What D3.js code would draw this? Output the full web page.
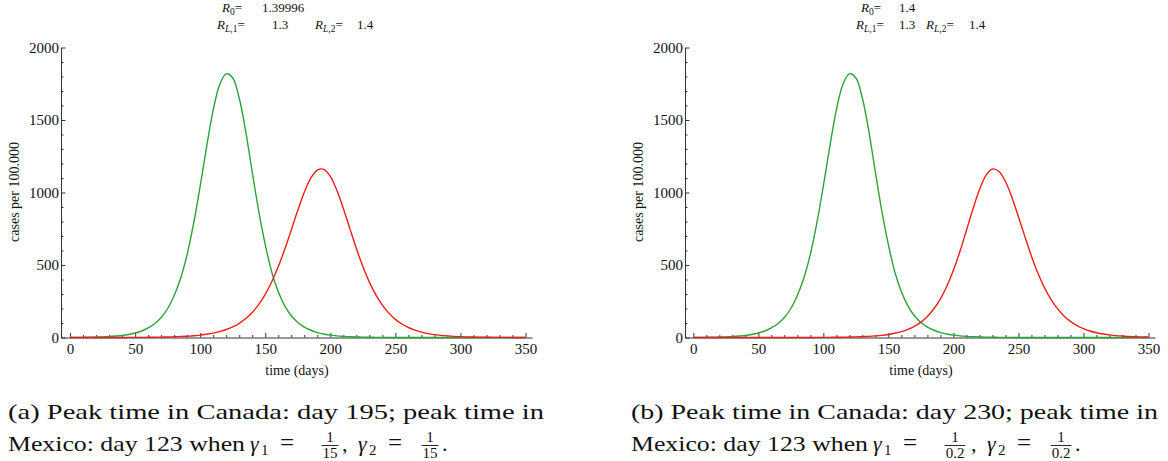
<!DOCTYPE html>
<html>
<head>
<meta charset="utf-8">
<script src="https://cdn.jsdelivr.net/npm/d3@7"></script>
<style>
  body { margin: 0; background: #fff; }
  svg { display: block; }
  svg text { font-family: "Liberation Serif", "Times New Roman", Times, serif; }
</style>
</head>
<body>
<script>
// Sample days (every 5 days)
const days = [0,5,10,15,20,25,30,35,40,45,50,55,60,65,70,75,80,85,90,95,
  100,105,110,115,120,125,130,135,140,145,150,155,160,165,170,175,180,185,190,195,
  200,205,210,215,220,225,230,235,240,245,250,255,260,265,270,275,280,285,290,295,
  300,305,310,315,320,325,330,335,340,345,350];

// Mexico: cases per 100.000 (same in both scenarios)
const mexico = [0.6,1,1.4,2,3,4.5,7,10,14,21,31,45,66,95,138,200,290,410,575,790,
  1045,1320,1570,1745,1818,1790,1650,1420,1140,870,640,450,315,218,150,104,72,50,34,24,
  16,11,7.5,5,3.5,2.5,1.7,1.2,0.8,0.6,0.4,0.3,0.2,0.2,0.1,0.1,0.1,0.1,0,0,
  0,0,0,0,0,0,0,0,0,0,0];

// Canada, gamma = 1/15
const canadaA = [0,0,0.1,0.1,0.1,0.2,0.2,0.3,0.4,0.6,0.8,1,1.4,1.9,2.6,3.5,4.8,6.5,9,12,
  16.5,22,30,41,55,73,98,131,173,228,298,385,489,610,742,877,1001,1099,1155,1160,
  1111,1015,890,751,614,489,382,294,223,168,125,93,69,51,37,27,20,15,11,8,
  6,4.3,3.2,2.3,1.7,1.2,0.9,0.7,0.5,0.4,0.3];

// Canada, gamma = 1/0.2
const canadaB = [0,0,0,0,0,0,0,0,0,0,0,0,0.1,0.1,0.1,0.2,0.2,0.3,0.4,0.6,
  0.8,1.1,1.5,2,3,4,6,8,11,15,21,29,40,56,77,106,145,198,266,355,
  464,593,738,886,1019,1118,1162,1145,1076,966,833,694,561,443,344,263,199,149,111,82,
  61,45,33,24,18,13,10,7,5,4,3];

const xTickValues = [0,50,100,150,200,250,300,350];
const yTickValues = [0,500,1000,1500,2000];

const panels = [
  { left: 61, right: 532, xMin: -7, xMax: 355, canada: canadaA,
    r0: "1.39996", rl1: "1.3", rl2: "1.4",
    caption: {x: 8, line1: "(a) Peak time in Canada: day 195; peak time in", w1: 536, den: "15"},
    header: {r0: 222, r0v: 262, rl1: 217, rl1v: 272, rl2: 315, rl2v: 357},
    ylab: 14, xlab: 297 },
  { left: 685, right: 1155, xMin: -6.4, xMax: 355, canada: canadaB,
    r0: "1.4", rl1: "1.3", rl2: "1.4",
    caption: {x: 631, line1: "(b) Peak time in Canada: day 230; peak time in", w1: 527, den: "0.2"},
    header: {r0: 861, r0v: 899, rl1: 856, rl1v: 899, rl2: 926, rl2v: 969},
    ylab: 638, xlab: 921 }
];

const W = 1168, H = 461;
const GREEN = "#2ba33b";
const RED = "#ee1d1d";
const AXIS = "#333";

const svg = d3.select("body").append("svg")
  .attr("width", W).attr("height", H);

const y = d3.scaleLinear().domain([0, 2000]).range([337.5, 47.5]);

function styleAxis(g) {
  g.select(".domain").attr("stroke", AXIS).attr("stroke-width", 1);
  g.selectAll(".tick line").attr("stroke", AXIS).attr("stroke-width", 1);
  g.selectAll(".tick text").attr("fill", "#111").attr("font-family", null).attr("font-size", 15);
}

// R with a subscript followed by "=" (e.g. R_0=, R_{L,1}=)
function rLabel(g, x, baseline, subItalic, subRest) {
  const t = g.append("text").attr("x", x).attr("y", baseline)
    .attr("font-size", 13).attr("fill", "#111");
  t.append("tspan").attr("font-style", "italic").text("R");
  const s = t.append("tspan").attr("dy", 3).attr("font-size", 9.5);
  if (subItalic) s.append("tspan").attr("font-style", "italic").text(subItalic);
  if (subRest) s.append("tspan").text(subRest);
  t.append("tspan").attr("dy", -3).text("=");
}

function plainText(g, x, baseline, str, size) {
  return g.append("text").attr("x", x).attr("y", baseline)
    .attr("font-size", size).attr("fill", "#111").text(str);
}

// Stacked fraction for the caption
function fraction(g, cx, num, den) {
  g.append("text").attr("x", cx).attr("y", 442).attr("text-anchor", "middle")
    .attr("font-size", 15).attr("fill", "#111").text(num);
  const dt = g.append("text").attr("x", cx).attr("y", 458).attr("text-anchor", "middle")
    .attr("font-size", 15).attr("fill", "#111").text(den);
  const w = dt.node().getComputedTextLength();
  g.append("line").attr("x1", cx - w / 2 - 1).attr("x2", cx + w / 2 + 1)
    .attr("y1", 445.5).attr("y2", 445.5).attr("stroke", "#111").attr("stroke-width", 0.9);
}

function gammaEq(g, x, idx, fracCx, den) {
  g.append("text").attr("x", x).attr("y", 451).attr("font-size", 22)
    .attr("font-style", "italic").attr("fill", "#111").text("γ");
  g.append("text").attr("x", x + 11).attr("y", 455).attr("font-size", 15)
    .attr("fill", "#111").text(idx);
  g.append("text").attr("x", x + 30).attr("y", 451).attr("font-size", 25)
    .attr("fill", "#111").text("=");
  fraction(g, fracCx, "1", den);
}

panels.forEach(p => {
  const g = svg.append("g");
  const x = d3.scaleLinear().domain([p.xMin, p.xMax]).range([p.left, p.right]);

  const xMinor = d3.range(0, 351, 10).filter(v => v % 50 !== 0);
  const yMinor = d3.range(0, 2001, 100).filter(v => v % 500 !== 0);

  // minor ticks
  g.append("g").attr("transform", `translate(0,${y(0)})`)
    .call(d3.axisBottom(x).tickValues(xMinor).tickSize(-2.5).tickFormat(""))
    .call(a => a.select(".domain").remove())
    .call(styleAxis);
  g.append("g").attr("transform", `translate(${p.left},0)`)
    .call(d3.axisLeft(y).tickValues(yMinor).tickSize(-2.5).tickFormat(""))
    .call(a => a.select(".domain").remove())
    .call(styleAxis);

  // major axes
  g.append("g").attr("transform", `translate(0,${y(0)})`)
    .call(d3.axisBottom(x).tickValues(xTickValues).tickFormat(d3.format("d"))
      .tickSize(-4.5).tickSizeOuter(0).tickPadding(6))
    .call(styleAxis);
  g.append("g").attr("transform", `translate(${p.left},0)`)
    .call(d3.axisLeft(y).tickValues(yTickValues).tickFormat(d3.format("d"))
      .tickSize(-4.5).tickSizeOuter(0).tickPadding(2))
    .call(styleAxis);

  // curves
  const line = arr => d3.line()
    .x((d, i) => x(days[i]))
    .y(d => y(d))
    .curve(d3.curveCatmullRom.alpha(0.5))(arr);

  g.append("path").attr("d", line(mexico)).attr("fill", "none")
    .attr("stroke", GREEN).attr("stroke-width", 1.4);
  g.append("path").attr("d", line(p.canada)).attr("fill", "none")
    .attr("stroke", RED).attr("stroke-width", 1.4);

  // axis titles
  g.append("text").attr("x", p.xlab).attr("y", 375).attr("text-anchor", "middle")
    .attr("font-size", 14).attr("fill", "#111").text("time (days)");
  g.append("text").attr("transform", `translate(${p.ylab},192) rotate(-90)`)
    .attr("text-anchor", "middle").attr("dy", "0.35em")
    .attr("font-size", 14).attr("fill", "#111").text("cases per 100.000");

  // parameter header
  const h = p.header;
  rLabel(g, h.r0, 12, null, "0");
  plainText(g, h.r0v, 12, p.r0, 13);
  rLabel(g, h.rl1, 29, "L", ",1");
  plainText(g, h.rl1v, 29, p.rl1, 13);
  rLabel(g, h.rl2, 29, "L", ",2");
  plainText(g, h.rl2v, 29, p.rl2, 13);

  // caption
  const c = p.caption;
  g.append("text").attr("x", c.x).attr("y", 419).attr("font-size", 22)
    .attr("fill", "#111").attr("textLength", c.w1).attr("lengthAdjust", "spacingAndGlyphs")
    .text(c.line1);
  g.append("text").attr("x", c.x).attr("y", 451).attr("font-size", 22)
    .attr("fill", "#111").attr("textLength", 237).attr("lengthAdjust", "spacingAndGlyphs")
    .text("Mexico: day 123 when");
  const fw = c.den.length > 2 ? 1 : 0;
  gammaEq(g, c.x + 242, "1", c.x + 322 + fw * 2, c.den);
  plainText(g, c.x + 334 + fw * 6, 451, ",", 22);
  gammaEq(g, c.x + 350 + fw * 6, "2", c.x + 422 + fw * 8, c.den);
  plainText(g, c.x + 434 + fw * 10, 451, ".", 22);
});
</script>
</body>
</html>
